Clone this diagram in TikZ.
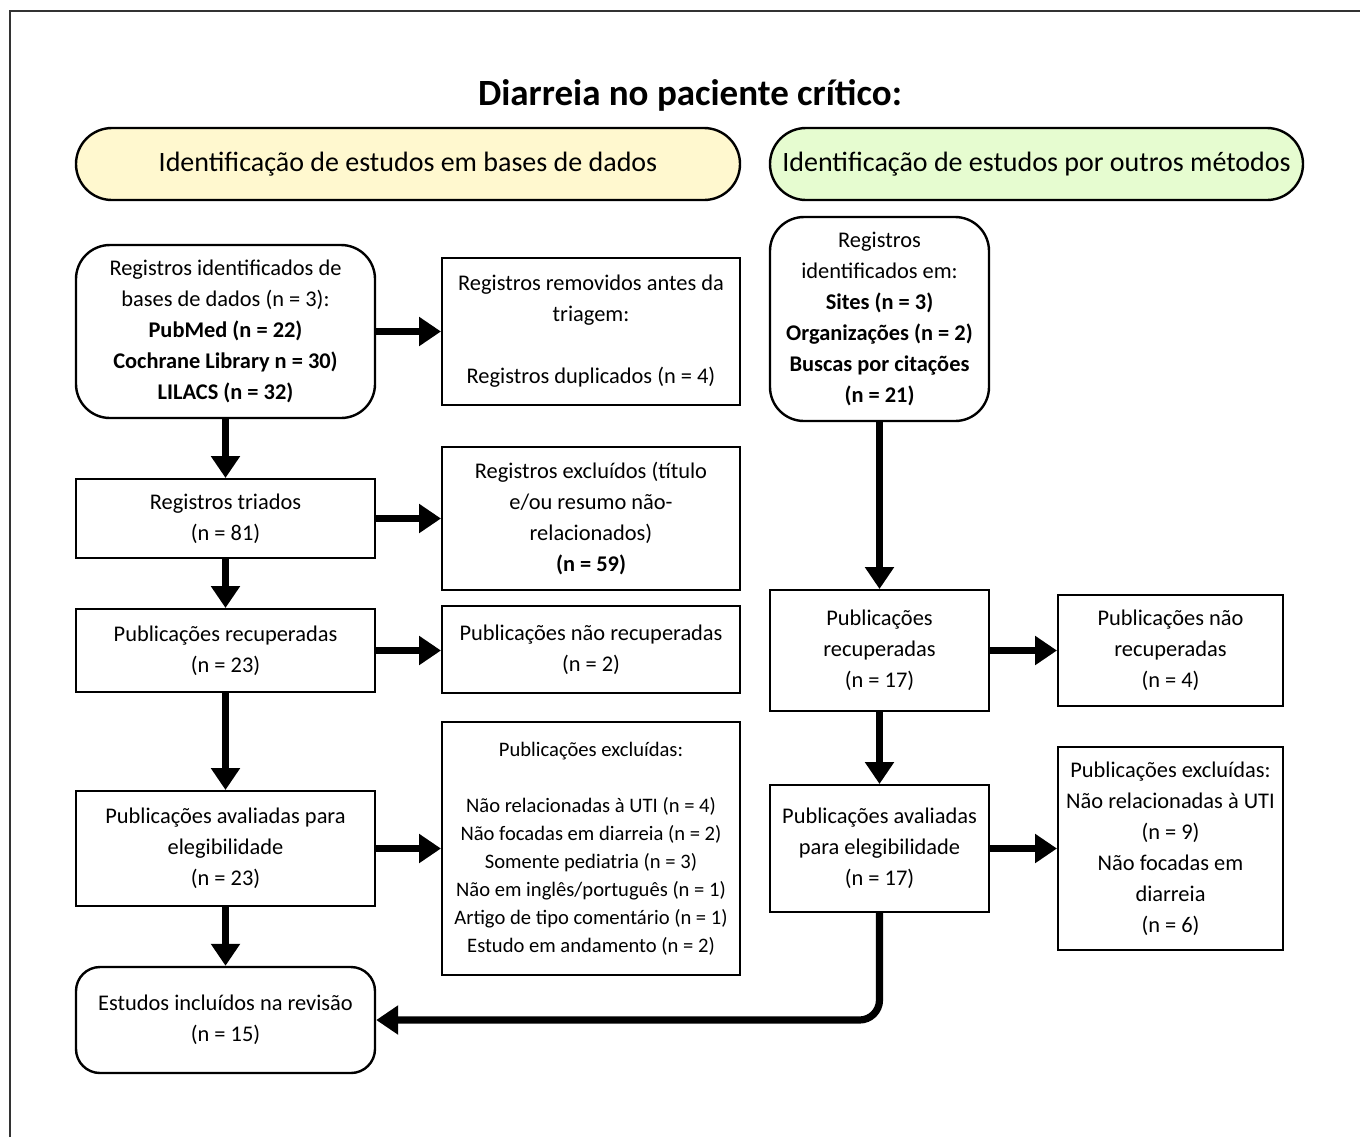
\documentclass[tikz,border=0pt]{standalone}
\usepackage{fontspec}
\setmainfont{Carlito}
\usetikzlibrary{arrows.meta}

\definecolor{headyellow}{RGB}{255,248,207}
\definecolor{headgreen}{RGB}{230,252,208}

\tikzset{
  box/.style={draw, line width=1pt, inner sep=0pt, align=center,
    font=\fontsize{11.2}{15.5}\selectfont},
  rbox/.style={box, line width=1.2pt, rounded corners=#1},
  head/.style={draw, line width=1.2pt, inner sep=0pt, rounded corners=18pt,
    minimum height=36pt, font=\fontsize{14}{17}\selectfont},
  arr/.style={line width=3.6pt, -{Triangle[length=11pt,width=14pt]}}
}

\begin{document}
\begin{tikzpicture}[x=0.5pt,y=-0.5pt]
    \useasboundingbox (0,0) rectangle (1360,1137);
    \draw[line width=1pt, black!80] (10,1137) -- (10,11) -- (1360,11);

    \node[font=\fontsize{18.5}{22}\selectfont\bfseries] (title) at (690,95) {Diarreia no paciente crítico:};
    \node[head, fill=headyellow, minimum width=332pt] (hdb) at (408,164) {Identificação de estudos em bases de dados};
    \node[head, fill=headgreen, minimum width=266.5pt] (hoth) at (1036.5,164) {Identificação de estudos por outros métodos};

    % bases de dados
    \node[rbox=17pt, minimum width=149.5pt, minimum height=86.5pt] (ident) at (225.5,331.5)
      {Registros identificados de\\ bases de dados (n = 3):\\ \textbf{PubMed (n = 22)}\\
       \textbf{Cochrane Library n = 30)}\\ \textbf{LILACS (n = 32)}};
    \node[box, minimum width=149pt, minimum height=73.5pt] (removed) at (591,331.5)
      {Registros removidos antes da\\ triagem:\\[15.5pt] Registros duplicados (n = 4)};
    \node[box, minimum width=149.5pt, minimum height=39.5pt] (screened) at (225.5,518.5)
      {Registros triados\\ (n = 81)};
    \node[box, minimum width=149pt, minimum height=71.5pt] (excluded) at (591,518.5)
      {Registros excluídos (título\\ e/ou resumo não-\\ relacionados)\\ \textbf{(n = 59)}};
    \node[box, minimum width=149.5pt, minimum height=41.5pt] (retrieved) at (225.5,650.5)
      {Publicações recuperadas\\ (n = 23)};
    \node[box, minimum width=149pt, minimum height=43.5pt] (notretr) at (591,649.5)
      {Publicações não recuperadas\\ (n = 2)};
    \node[box, minimum width=149.5pt, minimum height=57.5pt] (assessed) at (225.5,848.5)
      {Publicações avaliadas para\\ elegibilidade\\ (n = 23)};
    \node[box, minimum width=149pt, minimum height=126.5pt, font=\fontsize{10.3}{14}\selectfont] (pubexcl) at (591,848.5)
      {Publicações excluídas:\\[14pt] Não relacionadas à UTI (n = 4)\\ Não focadas em diarreia (n = 2)\\
       Somente pediatria (n = 3)\\ Não em inglês/português (n = 1)\\ Artigo de tipo comentário (n = 1)\\
       Estudo em andamento (n = 2)};
    \node[rbox=12pt, minimum width=149.5pt, minimum height=53pt] (included) at (225.5,1020)
      {Estudos incluídos na revisão\\ (n = 15)};

    % outros metodos
    \node[rbox=17pt, minimum width=109.5pt, minimum height=102pt] (othident) at (879.5,319)
      {Registros\\ identificados em:\\ \textbf{Sites (n = 3)}\\ \textbf{Organizações (n = 2)}\\
       \textbf{Buscas por citações}\\ \textbf{(n = 21)}};
    \node[box, minimum width=109.5pt, minimum height=60.5pt] (othretr) at (879.5,650.5)
      {Publicações\\ recuperadas\\ (n = 17)};
    \node[box, minimum width=112.5pt, minimum height=55.5pt] (othnotretr) at (1170.5,650.5)
      {Publicações não\\ recuperadas\\ (n = 4)};
    \node[box, minimum width=109.5pt, minimum height=63.5pt] (othassess) at (879.5,848.5)
      {Publicações avaliadas\\ para elegibilidade\\ (n = 17)};
    \node[box, minimum width=112.5pt, minimum height=101.5pt] (othexcl) at (1170.5,848.5)
      {Publicações excluídas:\\ Não relacionadas à UTI\\ (n = 9)\\ Não focadas em\\ diarreia\\ (n = 6)};

    % setas
    \draw[arr] (ident) -- (removed);
    \draw[arr] (screened) -- (excluded.west |- screened);
    \draw[arr] (retrieved) -- (notretr.west |- retrieved);
    \draw[arr] (assessed) -- (pubexcl);
    \draw[arr] (ident) -- (screened);
    \draw[arr] (screened) -- (retrieved);
    \draw[arr] (retrieved) -- (assessed);
    \draw[arr] (assessed) -- (included);
    \draw[arr] (othident) -- (othretr);
    \draw[arr] (othretr) -- (othassess);
    \draw[arr] (othretr) -- (othnotretr);
    \draw[arr] (othassess) -- (othexcl);
    \draw[arr, rounded corners=10pt] (othassess.south) |- (included.east);
\end{tikzpicture}
\end{document}
